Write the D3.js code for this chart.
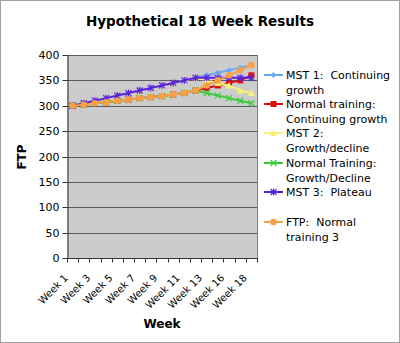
<!DOCTYPE html>
<html><head><meta charset="utf-8">
<script src="https://cdn.jsdelivr.net/npm/d3@7"></script>
<style>body{margin:0;background:#fff}svg{display:block}text{font-family:"DejaVu Sans",Verdana,sans-serif;white-space:pre}</style>
</head><body>
<script>
const categories = ["Week 1","Week 2","Week 3","Week 4","Week 5","Week 6","Week 7","Week 8","Week 9","Week 10","Week 11","Week 12","Week 13","Week 15","Week 16","Week 17","Week 18"];
const shownLabels = ["Week 1","Week 3","Week 5","Week 7","Week 9","Week 11","Week 13","Week 16","Week 18"];
const mst1 = [300,305,310,315,320,325,330,335,340,345,350,355,360,365,370,375,380];
const normal1 = [300,302,305,307,310,312,315,317,319,322,325,330,335,340,345,350,360];
const mst2 = [300,305,310,315,320,325,330,335,340,345,350,355,350,345,340,330,325];
const normal2 = [300,302,305,307,310,312,315,317,319,322,325,330,325,320,315,310,305];
const mst3 = [300,305,310,315,320,325,330,335,340,345,350,355,355,355,355,355,355];
const ftp3 = [300,302,305,307,310,312,315,317,319,322,325,330,340,350,360,370,380];
const yTicks = [0,50,100,150,200,250,300,350,400];
const seriesNames = [["MST 1:  Continuing","growth"],["Normal training:","Continuing growth"],["MST 2:","Growth/decline"],["Normal Training:","Growth/Decline"],["MST 3:  Plateau",""],["FTP:  Normal","training 3"]];
const seriesValues = [mst1, normal1, mst2, normal2, mst3, ftp3];
const colors = ["#6aa8f8","#dd1010","#f8f078","#3ccc3c","#5a20e0","#f8a048"];
const markers = ["diamond","square","triangle","x","star","circle"];

const W=400,H=343;
const svg=d3.select("body").append("svg").attr("width",W).attr("height",H);
svg.append("rect").attr("x",0.5).attr("y",0.5).attr("width",W-1).attr("height",H-1).attr("fill","#fff").attr("stroke","#a0a0a0");

const L=67,R=257,T=55,B=258;
const x=d3.scaleBand().domain(categories).range([L,R]);
const y=d3.scaleLinear().domain([0,400]).range([B,T]);

svg.append("text").attr("x",200).attr("y",26).attr("text-anchor","middle").attr("font-weight","bold").attr("font-size",13.5).text("Hypothetical 18 Week Results");

svg.append("rect").attr("x",L).attr("y",T).attr("width",R-L).attr("height",B-T).attr("fill","#cccccc");
svg.append("g").selectAll("line").data(yTicks).join("line")
  .attr("x1",L).attr("x2",R).attr("y1",d=>Math.round(y(d))+0.5).attr("y2",d=>Math.round(y(d))+0.5)
  .attr("stroke","#5a5a5a").attr("stroke-width",1);
svg.append("line").attr("x1",R+0.5).attr("x2",R+0.5).attr("y1",T).attr("y2",B).attr("stroke","#808080");

const ya=svg.append("g").attr("transform",`translate(${L+0.5},0.5)`).call(d3.axisLeft(y).tickValues(yTicks).tickSize(5).tickPadding(3).tickSizeOuter(0));
ya.selectAll("text").attr("font-size",11).attr("fill","#000").style("font-family","DejaVu Sans, Verdana, sans-serif");
ya.selectAll("path,line").attr("stroke","#333");
ya.selectAll(".tick").attr("transform",d=>`translate(0,${Math.round(y(d))})`);

const xa=svg.append("g").attr("transform",`translate(0,${B+0.5})`);
xa.append("line").attr("x1",L).attr("x2",R+1).attr("stroke","#333");
const bounds=categories.map(c=>x(c)).concat([R]);
xa.selectAll("line.t").data(bounds).join("line").attr("class","t")
  .attr("x1",d=>Math.round(d)+0.5).attr("x2",d=>Math.round(d)+0.5).attr("y1",0).attr("y2",4).attr("stroke","#333");
xa.selectAll("text").data(shownLabels).join("text")
  .attr("transform",d=>`translate(${x(d)+x.bandwidth()/2-4},${20}) rotate(-45)`)
  .attr("text-anchor","end").attr("font-size",10).text(d=>d);

svg.append("text").attr("x",162).attr("y",328).attr("text-anchor","middle").attr("font-weight","bold").attr("font-size",12).text("Week");
svg.append("text").attr("transform","translate(26,157) rotate(-90)").attr("text-anchor","middle").attr("font-weight","bold").attr("font-size",12).text("FTP");

function drawMarker(g,type,color,cx,cy){
  if(type==="diamond") g.append("path").attr("d",`M${cx},${cy-3}L${cx+3},${cy}L${cx},${cy+3}L${cx-3},${cy}Z`).attr("fill",color);
  else if(type==="square") g.append("rect").attr("x",cx-3).attr("y",cy-3).attr("width",6).attr("height",6).attr("fill",color);
  else if(type==="triangle") g.append("path").attr("d",`M${cx},${cy-3.5}L${cx+3.5},${cy+3}L${cx-3.5},${cy+3}Z`).attr("fill",color);
  else if(type==="x") g.append("path").attr("d",`M${cx-3},${cy-3}L${cx+3},${cy+3}M${cx+3},${cy-3}L${cx-3},${cy+3}`).attr("stroke",color).attr("stroke-width",1.3);
  else if(type==="star") g.append("path").attr("d",`M${cx-3},${cy-3}L${cx+3},${cy+3}M${cx+3},${cy-3}L${cx-3},${cy+3}M${cx},${cy-3.5}L${cx},${cy+3.5}`).attr("stroke",color).attr("stroke-width",1.2);
  else g.append("circle").attr("cx",cx).attr("cy",cy).attr("r",3.3).attr("fill",color);
}

const line=d3.line().x((d,i)=>x(categories[i])+x.bandwidth()/2).y(d=>y(d));
seriesValues.forEach((vals,si)=>{
  const g=svg.append("g");
  g.append("path").datum(vals).attr("d",line).attr("fill","none").attr("stroke",colors[si]).attr("stroke-width",2);
  vals.forEach((v,i)=>drawMarker(g,markers[si],colors[si],x(categories[i])+x.bandwidth()/2,y(v)));
});

const legY=[75,104,133,163,192,222];
seriesNames.forEach((n,i)=>{
  const g=svg.append("g");
  g.append("line").attr("x1",264).attr("x2",283).attr("y1",legY[i]).attr("y2",legY[i]).attr("stroke",colors[i]).attr("stroke-width",2);
  drawMarker(g,markers[i],colors[i],273.5,legY[i]);
  n.forEach((t,j)=>{ if(t) g.append("text").attr("x",286).attr("y",legY[i]+4+j*14.5).attr("font-size",11).text(t); });
});
</script>
</body></html>
